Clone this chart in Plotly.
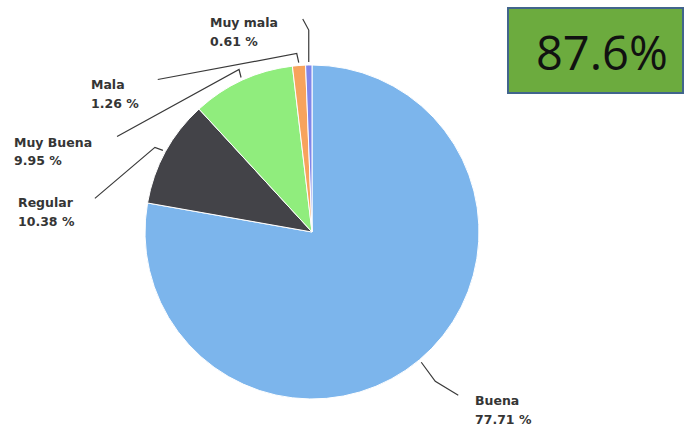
import math
import plotly.graph_objects as go

# Survey result shares (percent), drawn clockwise from 12 o'clock
categories = ["Buena", "Regular", "Muy Buena", "Mala", "Muy mala"]
shares = [77.71, 10.38, 9.95, 1.26, 0.61]
slice_colors = ["#7cb5ec", "#434348", "#90ed7d", "#f7a35c", "#8085e9"]
headline = "87.6%"

W, H = 686, 428
CX, CY, R = 312, 232, 167  # pie centre and radius in pixels


def px(x):
    return x / W


def py(y):
    return 1 - y / H


fig = go.Figure(
    go.Pie(
        labels=categories,
        values=shares,
        marker=dict(colors=slice_colors, line=dict(color="white", width=1)),
        sort=False,
        direction="clockwise",
        rotation=0,
        textinfo="none",
        hoverinfo="label+percent",
        domain=dict(x=[px(CX - R), px(CX + R)], y=[py(CY + R), py(CY - R)]),
        showlegend=False,
    )
)

# Connector start points sit just outside each slice's mid angle
total = sum(shares)
starts = []
acc = 0.0
for v in shares:
    mid = (acc + v / 2) / total * 2 * math.pi
    acc += v
    starts.append((CX + (R + 3) * math.sin(mid), CY - (R + 3) * math.cos(mid)))

# Label anchor (left x, first-line centre y) and connector bends, per slice
label_pos = {
    "Buena": (473, 400),
    "Regular": (16, 202),
    "Muy Buena": (12, 142),
    "Mala": (89, 84),
    "Muy mala": (208, 23),
}
bends = {
    "Buena": [(14, 19), (37, 33)],
    "Regular": [(-8, -3), (-68, 48)],
    "Muy Buena": [(-2, -8), (-124, 59)],
    "Mala": [(-2, -9), (-141, 17)],
    "Muy mala": [(0, -32), (-6, -43)],
}

shapes = []
annotations = []
font_lbl = dict(family="DejaVu Sans", size=12.5, color="#353535")
for name, v, (sx, sy) in zip(categories, shares, starts):
    pts = [(sx, sy)] + [(sx + dx, sy + dy) for dx, dy in bends[name]]
    path = "M " + " L ".join(f"{px(x):.5f},{py(y):.5f}" for x, y in pts)
    shapes.append(dict(type="path", xref="paper", yref="paper", path=path,
                       line=dict(color="#3a3a3a", width=1.2)))
    lx, ly = label_pos[name]
    annotations.append(dict(x=px(lx), y=py(ly), xref="paper", yref="paper",
                            text=f"<b>{name}</b>", showarrow=False,
                            xanchor="left", yanchor="middle", font=font_lbl))
    annotations.append(dict(x=px(lx), y=py(ly + 19), xref="paper", yref="paper",
                            text=f"<b>{v:.2f} %</b>", showarrow=False,
                            xanchor="left", yanchor="middle", font=font_lbl))

# Headline box
shapes.append(dict(type="rect", xref="paper", yref="paper",
                   x0=px(508), x1=px(683), y0=py(93), y1=py(8),
                   fillcolor="#6cab3e", line=dict(color="#41658c", width=2)))
annotations.append(dict(x=px(602), y=py(52), xref="paper", yref="paper",
                        text=headline, showarrow=False, xanchor="center",
                        yanchor="middle",
                        font=dict(family="Open Sans", size=47, color="#111111")))

fig.update_layout(
    width=W, height=H,
    margin=dict(l=0, r=0, t=0, b=0),
    paper_bgcolor="white", plot_bgcolor="white",
    shapes=shapes, annotations=annotations,
)

fig.write_html("out.html")
